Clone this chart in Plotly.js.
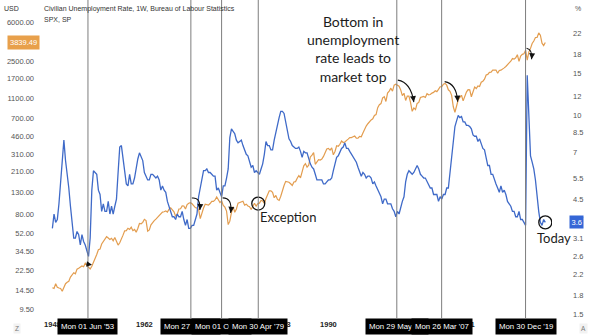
<!DOCTYPE html>
<html><head><meta charset="utf-8">
<script src="https://cdn.plot.ly/plotly-3.0.1.min.js"></script>
<style>html,body{margin:0;padding:0;background:#fff}#chart{width:600px;height:335px}</style>
</head><body><div id="chart"></div>
<script>
// ---------- DATA (quarterly samples from 1948.0, step 0.25 yr) ----------
const startYear = 1948;
const stepYears = 0.25;

// Civilian unemployment rate, % (Jan/Apr/Jul/Oct samples, last = latest)
const unemploymentRate = [
  3.4,3.9,3.6,3.7, 4.3,5.3,6.7,7.9, 6.5,5.8,5.0,4.2, 3.7,3.1,3.1,3.3, 3.2,2.9,3.2,3.0,
  2.9,2.7,2.6,3.1, 4.9,5.9,5.8,5.7, 4.9,4.7,4.0,4.3, 4.0,4.0,4.4,3.9, 4.2,3.9,4.2,4.5,
  5.8,7.4,7.5,6.7, 6.0,5.2,5.1,5.7, 5.2,5.2,5.5,6.1, 6.6,7.0,6.7,6.5, 5.8,5.6,5.4,5.4,
  5.7,5.7,5.6,5.5, 5.6,5.4,4.9,5.1, 4.9,4.8,4.4,4.2, 4.0,3.8,3.8,3.7, 3.9,3.8,3.8,4.0,
  3.7,3.5,3.7,3.4, 3.4,3.5,3.5,3.7, 3.9,4.6,5.0,5.5, 5.9,5.9,6.0,5.8, 5.8,5.7,5.6,5.6,
  4.9,5.0,4.8,4.6, 5.1,5.1,5.5,6.0, 8.1,8.8,8.6,8.4, 7.9,7.7,7.8,7.9, 7.5,7.2,6.9,6.8,
  6.4,6.1,6.2,5.8, 5.9,5.8,5.7,6.0, 6.3,6.9,7.8,7.5, 7.5,7.2,7.2,7.9, 8.6,9.3,9.8,10.4,
  10.4,10.2,9.4,8.8, 8.0,7.8,7.5,7.4, 7.3,7.3,7.4,7.1, 6.7,7.1,7.0,7.0, 6.6,6.3,6.1,6.0,
  5.7,5.4,5.4,5.4, 5.4,5.2,5.2,5.3, 5.4,5.4,5.5,5.9, 6.4,6.7,6.8,7.0, 7.3,7.4,7.7,7.3,
  7.3,7.1,6.9,6.8, 6.6,6.4,6.1,5.8, 5.6,5.8,5.7,5.5, 5.6,5.6,5.5,5.2, 5.3,5.1,4.9,4.7,
  4.6,4.3,4.5,4.5, 4.3,4.3,4.3,4.1, 4.0,3.8,4.0,3.9, 4.2,4.4,4.6,5.3, 5.7,5.9,5.8,5.7,
  5.8,6.0,6.2,6.0, 5.7,5.6,5.5,5.5, 5.3,5.2,5.0,5.0, 4.7,4.7,4.7,4.4, 4.6,4.5,4.7,4.7,
  5.0,5.0,5.8,6.5, 7.8,9.0,9.5,10.0, 9.8,9.9,9.4,9.4, 9.1,9.1,9.0,8.8, 8.3,8.2,8.2,7.8,
  8.0,7.6,7.3,7.2, 6.6,6.2,6.2,5.7, 5.7,5.4,5.2,5.0, 4.8,5.1,4.8,4.9, 4.7,4.4,4.3,4.2,
  4.0,4.0,3.8,3.8, 4.0,3.7,3.7,3.6, 3.5,14.7,10.2,6.8, 6.4,6.0,5.4,4.5, 4.0,3.6,3.5,3.7,
  3.6
];

// S&P 500 close at each sample date
const spxClose = [
  15.30,
  15.08,16.74,15.49,15.20, 15.06,14.16,15.58,16.76, 17.29,17.69,19.45,20.41, 21.48,20.96,23.26,23.77,
  24.37,24.96,24.54,26.57, 25.29,24.14,23.35,24.81, 26.94,29.21,32.31,35.98, 36.58,41.03,43.67,45.48,
  48.48,46.97,45.35,46.67, 44.11,47.37,42.42,39.99, 42.10,45.24,50.06,55.21, 55.44,58.47,56.88,59.89,
  55.34,56.92,53.52,58.11, 65.06,64.64,66.73,71.55, 69.55,54.75,56.27,63.10, 66.57,69.37,71.70,75.02,
  78.98,81.69,84.18,84.75, 86.16,84.12,89.96,92.43, 89.23,84.74,76.56,80.33, 90.20,90.64,96.71,96.47,
  90.20,99.58,102.67,103.86, 101.51,97.71,93.12,92.06, 89.63,72.72,84.21,92.15, 100.31,99.70,98.34,102.09,
  107.20,107.14,110.55,118.05, 111.52,104.26,108.43,97.55, 93.98,86.00,63.54,68.56, 83.36,95.19,83.87,90.19,
  102.77,104.28,105.24,107.46, 98.42,100.48,96.53,95.10, 89.21,95.53,102.54,96.11, 101.59,102.91,109.32,107.94,
  102.09,114.24,125.46,135.76, 136.00,131.21,116.18,122.55, 111.96,109.61,120.42,140.64, 152.96,168.11,166.07,164.93,
  159.18,153.18,166.10,167.24, 180.66,191.85,182.08,211.28, 238.90,250.84,231.32,242.17, 291.70,304.00,321.83,247.08,
  258.89,273.50,271.91,277.72, 294.87,317.98,349.15,353.40, 339.94,358.02,306.05,330.22, 375.22,371.16,387.86,417.09,
  403.69,408.14,417.80,435.71, 451.67,450.53,458.93,466.45, 445.77,444.27,462.69,459.27, 500.71,544.75,584.41,615.93,
  645.50,670.63,687.31,740.74, 757.12,885.14,947.28,970.43, 1101.75,1133.84,1017.01,1229.23, 1286.37,1372.71,1282.71,1469.25,
  1498.58,1454.60,1436.51,1320.28, 1160.33,1224.42,1040.94,1148.08, 1147.39,989.82,815.28,879.82, 848.18,974.50,995.97,1111.92,
  1126.21,1140.84,1114.58,1211.92, 1180.59,1191.33,1228.81,1248.29, 1294.83,1270.20,1335.85,1418.30, 1420.86,1503.35,1526.75,1468.36,
  1322.70,1280.00,1166.36,903.25, 797.87,919.32,1057.08,1115.10, 1169.43,1030.71,1141.20,1257.64, 1325.83,1320.64,1131.42,1257.60,
  1408.47,1362.16,1440.67,1426.19, 1569.19,1606.28,1681.55,1848.36, 1872.34,1960.23,1972.29,2058.90, 2067.89,2063.11,1920.03,2043.94,
  2059.74,2098.86,2168.27,2238.83, 2362.72,2423.41,2519.36,2673.61, 2640.87,2718.37,2913.98,2506.85, 2834.40,2941.76,2976.74,3230.78,
  2584.59,3100.29,3363.00,3756.07, 3972.89,4297.50,4307.54,4766.18, 4530.41,3785.38,3585.62,3839.49
];

const yearTicks = [1948,1955,1962,1969,1976,1983,1990,1997,2004,2011,2018];
const spxTicks  = [9.5,14.5,22.5,34.5,52,80,130,210,310,460,700,1100,1700,2500,6000];
const rateTicks = [1.5,1.8,2.2,2.6,3.1,3.7,4.5,5.5,7,8.5,10,12,15,18,22];

// Marked dates (decimal years) and their time-scale labels
const eventDates  = [1953.414, 1969.071, 1973.748, 1979.326, 2000.407, 2007.230, 2019.995];
const eventLabels = ["Mon 01 Jun '53","Mon 27 Jan '69","Mon 01 Oct '73","Mon 30 Apr '79","Mon 29 May '00","Mon 26 Mar '07","Mon 30 Dec '19"];

const seriesTitle1 = "Civilian Unemployment Rate, 1W, Bureau of Labour Statistics";
const seriesTitle2 = "SPX, SP";
const noteText = "Bottom in<br>unemployment<br>rate leads to<br>market top";

// ---------- BUILD ----------
const dates = unemploymentRate.map((_, i) => startYear + i * stepYears);
const lastIdx = dates.length - 1;

const X_RANGE = [1946.116, 2024.02];
const Y_RANGE = [0.8887, 4.0003];     // log10 SPX
const Y2_RANGE = [0.1594, 1.4794];    // log10 rate

function interpLog(arr, t) {
  const f = (t - startYear) / stepYears;
  const i = Math.max(0, Math.min(arr.length - 2, Math.floor(f)));
  const w = f - i;
  return Math.pow(10, Math.log10(arr[i]) * (1 - w) + Math.log10(arr[i + 1]) * w);
}
const paperY = v => (Math.log10(v) - Y_RANGE[0]) / (Y_RANGE[1] - Y_RANGE[0]);

const ORANGE = '#e39d4f', BLUE = '#3f6ac8';
const FONT = 'Liberation Sans, Arial, sans-serif';
const HAND = 'Lato, "Open Sans", sans-serif';

const traces = [
  {x: dates, y: spxClose, type: 'scatter', mode: 'lines', yaxis: 'y',
   line: {color: ORANGE, width: 1.2}, hoverinfo: 'skip', showlegend: false},
  {x: dates, y: unemploymentRate, type: 'scatter', mode: 'lines', yaxis: 'y2',
   line: {color: BLUE, width: 1.3}, hoverinfo: 'skip', showlegend: false},
  // circled points
  {x: [eventDates[3]], y: [interpLog(spxClose, eventDates[3])], yaxis: 'y', type: 'scatter', mode: 'markers',
   marker: {symbol: 'circle-open', size: 13, color: '#111', line: {width: 1.3, color: '#111'}}, hoverinfo: 'skip', showlegend: false},
  {x: [dates[lastIdx]], y: [unemploymentRate[lastIdx]], yaxis: 'y2', type: 'scatter', mode: 'markers',
   marker: {symbol: 'circle-open', size: 13, color: '#111', line: {width: 1.3, color: '#111'}}, hoverinfo: 'skip', showlegend: false}
];

const shapes = eventDates.map(d => ({
  type: 'line', xref: 'x', yref: 'paper', x0: d, x1: d, y0: 0, y1: 1,
  line: {color: '#7d7d7d', width: 1}, layer: 'above'
}));

const annotations = [];

// curved arrows: [eventIndex, start dx, start dy(up), end dx, end dy, ctrl dx, ctrl dy] in px
const arrowGeom = [
  [1, 1, 5, 8, -12, 9, 1],
  [2, 1, 3, 8, -15, 10, 0],
  [4, 1, 5, 16, -22, 13, -2],
  [5, 3, 5, 13, -20, 12, -2],
  [6, 1, 2, 5, -11, 6, -1]
];
arrowGeom.forEach(([k, sx, sy, ex, ey, cx, cy]) => {
  const d = eventDates[k];
  const py = paperY(interpLog(spxClose, d));
  shapes.push({
    type: 'path', xref: 'x', yref: 'paper', xsizemode: 'pixel', ysizemode: 'pixel',
    xanchor: d, yanchor: py,
    path: `M${sx},${sy} Q${sx + cx},${sy + cy} ${sx + ex},${sy + ey}`,
    line: {color: '#111', width: 1.1}, layer: 'above'
  });
  let tx = cx - ex, ty = cy - ey; const L = Math.hypot(tx, ty) || 1;
  tx = tx / L * 4; ty = ty / L * 4;
  annotations.push({
    xref: 'x', yref: 'paper', x: d, y: py, xshift: sx + ex, yshift: sy + ey,
    text: '', showarrow: true, arrowhead: 2, arrowsize: 1, arrowwidth: 1.2, arrowcolor: '#111',
    ax: tx, ay: -ty, standoff: 0
  });
});
// small arrow at the 1953 bottom
annotations.push({
  xref: 'x', yref: 'y', x: eventDates[0], y: Math.log10(interpLog(spxClose, eventDates[0])),
  xshift: 4, yshift: 2, text: '', showarrow: true, arrowhead: 2, arrowsize: 0.9, arrowwidth: 1.2,
  arrowcolor: '#111', ax: -7, ay: -1, standoff: 0
});

// time-scale tags
eventDates.forEach((d, i) => annotations.push({
  xref: 'x', yref: 'paper', x: d, y: 0, yanchor: 'top', xanchor: 'center', yshift: 0,
  text: eventLabels[i], showarrow: false, bgcolor: '#000', borderpad: 3,
  font: {family: FONT, size: 7.8, color: '#fff'}
}));

// price tags
annotations.push({
  xref: 'paper', yref: 'y', x: 0, y: Math.log10(spxClose[lastIdx]), xanchor: 'right', xshift: 0,
  text: spxClose[lastIdx].toFixed(2), showarrow: false, bgcolor: '#e8a04b', borderpad: 2,
  font: {family: FONT, size: 7.5, color: '#fff'}
});
annotations.push({
  xref: 'paper', yref: 'y2', x: 1, y: Math.log10(unemploymentRate[lastIdx]), xanchor: 'left', xshift: 17,
  text: String(unemploymentRate[lastIdx]), showarrow: false, bgcolor: '#3566d6', borderpad: 1.5,
  font: {family: FONT, size: 7.5, color: '#fff'}
});

// header texts
annotations.push({xref: 'paper', yref: 'paper', x: 0, y: 1, xanchor: 'left', yanchor: 'top', xshift: 2, yshift: -3,
  text: seriesTitle1, showarrow: false, font: {family: FONT, size: 7, color: '#333'}});
annotations.push({xref: 'paper', yref: 'paper', x: 0, y: 1, xanchor: 'left', yanchor: 'top', xshift: 2, yshift: -14,
  text: seriesTitle2, showarrow: false, font: {family: FONT, size: 7, color: '#333'}});
annotations.push({xref: 'paper', yref: 'paper', x: 0, y: 1, xanchor: 'right', yanchor: 'top', xshift: -19, yshift: -3,
  text: 'USD', showarrow: false, font: {family: FONT, size: 7, color: '#333'}});
annotations.push({xref: 'paper', yref: 'paper', x: 1, y: 1, xanchor: 'left', yanchor: 'top', xshift: 21, yshift: -3,
  text: '%', showarrow: false, font: {family: FONT, size: 7, color: '#555'}});
annotations.push({xref: 'paper', yref: 'paper', x: 0, y: 0, xanchor: 'center', yanchor: 'top', xshift: -23, yshift: -5,
  text: 'Z', showarrow: false, font: {family: FONT, size: 6.5, color: '#777'}, bgcolor: '#f2f2f2', borderpad: 1});
annotations.push({xref: 'paper', yref: 'paper', x: 1, y: 0, xanchor: 'center', yanchor: 'top', xshift: 31, yshift: -5,
  text: 'A', showarrow: false, font: {family: FONT, size: 6.5, color: '#777'}, bgcolor: '#f2f2f2', borderpad: 1});

// hand-written notes
annotations.push({xref: 'paper', yref: 'paper', x: 0.6123, y: 0.845, xanchor: 'center', yanchor: 'middle',
  text: noteText, showarrow: false, align: 'center', font: {family: HAND, size: 14, color: '#1c1c1c'}});
annotations.push({xref: 'x', yref: 'y', x: eventDates[3], y: Math.log10(interpLog(spxClose, eventDates[3])),
  xanchor: 'left', yanchor: 'top', xshift: 0, yshift: -3, text: 'Exception', showarrow: false,
  font: {family: HAND, size: 13, color: '#1c1c1c'}});
annotations.push({xref: 'x', yref: 'y2', x: dates[lastIdx], y: Math.log10(unemploymentRate[lastIdx]),
  xanchor: 'center', yanchor: 'top', xshift: 9, yshift: -6, text: 'Today', showarrow: false,
  font: {family: HAND, size: 13, color: '#1c1c1c'}});

const layout = {
  width: 600, height: 335, autosize: false,
  margin: {l: 40, r: 48, t: 0, b: 17, pad: 0},
  paper_bgcolor: '#fff', plot_bgcolor: '#fff',
  showlegend: false,
  xaxis: {type: 'linear', range: X_RANGE, tickvals: yearTicks, ticktext: yearTicks.map(String),
    showgrid: false, zeroline: false, showline: false, ticks: '',
    tickfont: {family: FONT, size: 7.5, color: '#222', weight: 'bold'}},
  yaxis: {type: 'log', range: Y_RANGE, side: 'left', tickvals: spxTicks, ticktext: spxTicks.map(v => v.toFixed(2)),
    showgrid: false, zeroline: false, showline: false, ticks: '', ticklabelstandoff: 5,
    tickfont: {family: FONT, size: 7.5, color: '#555'}},
  yaxis2: {type: 'log', range: Y2_RANGE, side: 'right', overlaying: 'y', tickvals: rateTicks, ticktext: rateTicks.map(String),
    showgrid: false, zeroline: false, showline: false, ticks: '', ticklabelstandoff: 20,
    tickfont: {family: FONT, size: 7.5, color: '#555'}},
  shapes: shapes,
  annotations: annotations
};

Plotly.newPlot('chart', traces, layout, {displayModeBar: false, staticPlot: true});
</script>
</body></html>
